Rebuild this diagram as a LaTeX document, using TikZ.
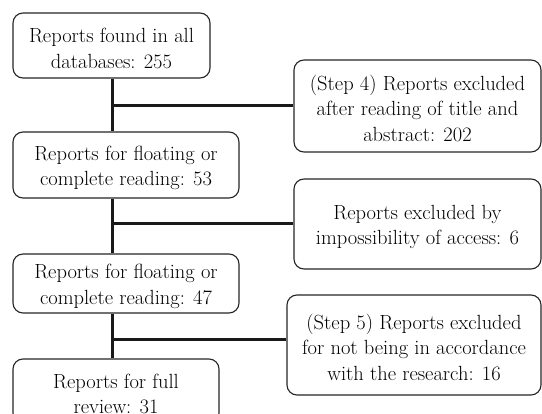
\documentclass[tikz,border=0pt]{standalone}
\usepackage{fontspec}
\newcommand\tup{\rule{0pt}{20pt}}
\begin{document}
\begin{tikzpicture}[x=1pt,y=-1pt,
  box/.style={draw=black!85, line width=1.1pt, rounded corners=10pt, fill=white,
    align=center, inner sep=0pt, text=black,
    font=\rmfamily\fontsize{20.5}{25.5}\selectfont},
  link/.style={line width=3pt, black!90}]
\useasboundingbox (0,0) rectangle (542,414);
\fill[white] (0,0) rectangle (542,414);
% left column
\node[box, minimum width=197pt, minimum height=65pt] (b1) at (111.5,45.5)
  {\tup Reports found in all\\databases: 255};
\node[box, minimum width=226pt, minimum height=66pt] (b2) at (126,165)
  {\tup Reports for floating or\\complete reading: 53};
\node[box, minimum width=226pt, minimum height=59pt] (b3) at (126,283.5)
  {\tup Reports for floating or\\complete reading: 47};
\node[box, minimum width=206pt, minimum height=64pt] (b4) at (116,391)
  {\tup Reports for full\\review: 31};
% right column
\node[box, minimum width=247pt, minimum height=92pt] (s4) at (417.5,106)
  {\tup (Step 4) Reports excluded\\after reading of title and\\abstract: 202};
\node[box, minimum width=247pt, minimum height=90pt] (ex) at (417.5,224)
  {\tup Reports excluded by\\impossibility of access: 6};
\node[box, minimum width=254pt, minimum height=100pt] (s5) at (414,345)
  {\tup (Step 5) Reports excluded\\for not being in accordance\\with the research: 16};
% connectors
\coordinate (t) at (112,0);
\coordinate (j3) at (112,340);
\draw[link] (t |- b1.south) -- (t |- b2.north);
\draw[link] (t |- b2.south) -- (t |- b3.north);
\draw[link] (t |- b3.south) -- (t |- b4.north);
\draw[link] (t |- s4.west) -- (s4.west);
\draw[link] (t |- ex.west) -- (ex.west);
\draw[link] (j3) -- (j3 -| s5.west);
\end{tikzpicture}
\end{document}
